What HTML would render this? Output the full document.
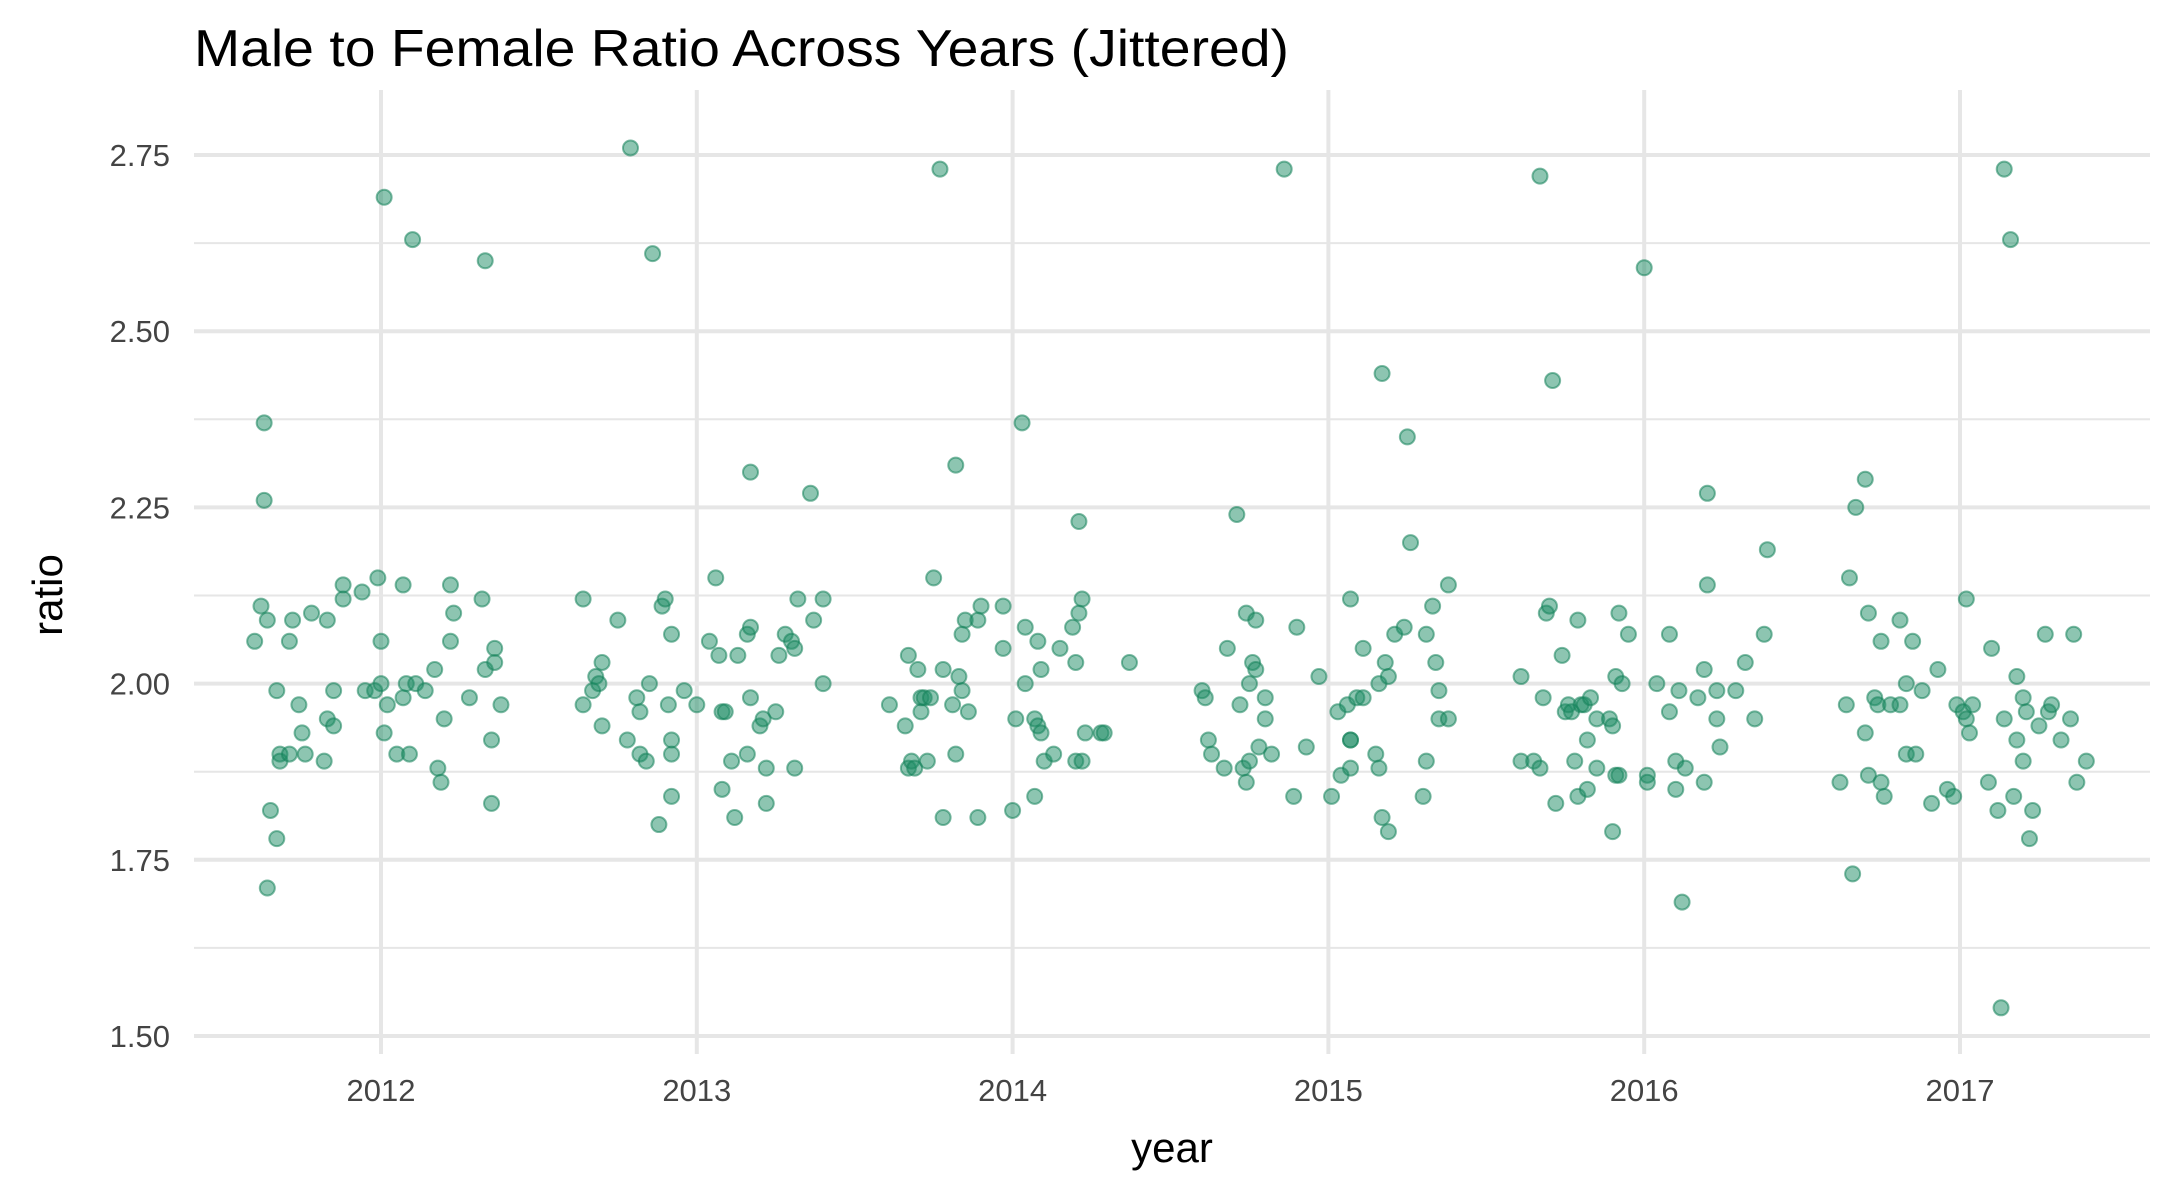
<!DOCTYPE html>
<html><head><meta charset="utf-8"><style>
html,body{margin:0;padding:0;background:#fff;}
svg{display:block;font-family:"Liberation Sans",sans-serif;}
</style></head><body>
<svg id="chart" width="2175" height="1200" viewBox="0 0 2175 1200" xmlns="http://www.w3.org/2000/svg">
<rect width="2175" height="1200" fill="#fff"/>
<g id="grid"></g>
<g id="points"></g>
<g id="axes"></g>
<text x="194" y="66" font-size="52" fill="#000" textLength="1095" lengthAdjust="spacingAndGlyphs">Male to Female Ratio Across Years (Jittered)</text>
<text x="1172" y="1162" font-size="42" text-anchor="middle" fill="#000">year</text>
<text transform="translate(62,595) rotate(-90)" font-size="42" text-anchor="middle" fill="#000">ratio</text>
</svg>
<script>
const yTicks=[1.50,1.75,2.00,2.25,2.50,2.75];
const yTickLabels=["1.50","1.75","2.00","2.25","2.50","2.75"];
const xTicks=[2012,2013,2014,2015,2016,2017];
const xTickLabels=["2012","2013","2014","2015","2016","2017"];
const years=[
2011.60,2011.62,2011.63,2011.63,2011.64,2011.64,2011.65,2011.67,2011.67,2011.68,2011.68,2011.71,2011.71,2011.72,2011.74,2011.75,2011.76,2011.78,2011.82,2011.83,2011.83,2011.85,2011.85,2011.88,2011.88,2011.94,2011.95,2011.98,2011.99,2012.00,2012.00,2012.01,2012.01,2012.02,2012.05,2012.07,2012.07,2012.08,2012.09,2012.10,2012.11,2012.14,2012.17,2012.18,2012.19,2012.20,2012.22,2012.22,2012.23,2012.28,2012.32,2012.33,2012.33,2012.35,2012.35,2012.36,2012.36,2012.38,
2012.64,2012.64,2012.67,2012.68,2012.69,2012.70,2012.70,2012.75,2012.78,2012.79,2012.81,2012.82,2012.82,2012.84,2012.85,2012.86,2012.88,2012.89,2012.90,2012.91,2012.92,2012.92,2012.92,2012.92,2012.96,2013.00,2013.04,2013.06,2013.07,2013.08,2013.08,2013.09,2013.11,2013.12,2013.13,2013.16,2013.16,2013.17,2013.17,2013.17,2013.20,2013.21,2013.22,2013.22,2013.25,2013.26,2013.28,2013.30,2013.31,2013.31,2013.32,2013.36,2013.37,2013.40,2013.40,
2013.61,2013.66,2013.67,2013.67,2013.68,2013.69,2013.70,2013.71,2013.71,2013.72,2013.73,2013.74,2013.75,2013.77,2013.78,2013.78,2013.81,2013.82,2013.82,2013.83,2013.84,2013.84,2013.85,2013.86,2013.89,2013.89,2013.90,2013.97,2013.97,2014.00,2014.01,2014.03,2014.04,2014.04,2014.07,2014.07,2014.08,2014.08,2014.09,2014.09,2014.10,2014.13,2014.15,2014.19,2014.20,2014.20,2014.21,2014.21,2014.22,2014.22,2014.23,2014.28,2014.29,2014.37,
2014.60,2014.61,2014.62,2014.63,2014.67,2014.68,2014.71,2014.72,2014.73,2014.74,2014.74,2014.75,2014.75,2014.76,2014.77,2014.77,2014.78,2014.80,2014.80,2014.82,2014.86,2014.89,2014.90,2014.93,2014.97,2015.01,2015.03,2015.04,2015.06,2015.07,2015.07,2015.07,2015.07,2015.09,2015.11,2015.11,2015.15,2015.16,2015.16,2015.17,2015.17,2015.18,2015.19,2015.19,2015.21,2015.24,2015.25,2015.26,2015.30,2015.31,2015.31,2015.33,2015.34,2015.35,2015.35,2015.38,2015.38,
2015.61,2015.61,2015.65,2015.67,2015.67,2015.68,2015.69,2015.70,2015.71,2015.72,2015.74,2015.75,2015.76,2015.77,2015.78,2015.79,2015.79,2015.80,2015.81,2015.82,2015.82,2015.83,2015.85,2015.85,2015.89,2015.90,2015.90,2015.91,2015.91,2015.92,2015.92,2015.93,2015.95,2016.00,2016.01,2016.01,2016.04,2016.08,2016.08,2016.10,2016.10,2016.11,2016.12,2016.13,2016.17,2016.19,2016.19,2016.20,2016.20,2016.23,2016.23,2016.24,2016.29,2016.32,2016.35,2016.38,2016.39,
2016.62,2016.64,2016.65,2016.66,2016.67,2016.70,2016.70,2016.71,2016.71,2016.73,2016.74,2016.75,2016.75,2016.76,2016.78,2016.81,2016.81,2016.83,2016.83,2016.85,2016.86,2016.88,2016.91,2016.93,2016.96,2016.98,2016.99,2017.01,2017.02,2017.02,2017.03,2017.04,2017.09,2017.10,2017.12,2017.13,2017.14,2017.14,2017.16,2017.17,2017.18,2017.18,2017.20,2017.20,2017.21,2017.22,2017.23,2017.25,2017.27,2017.28,2017.29,2017.32,2017.35,2017.36,2017.37,2017.40];
const ratios=[
2.06,2.11,2.37,2.26,2.09,1.71,1.82,1.99,1.78,1.90,1.89,2.06,1.90,2.09,1.97,1.93,1.90,2.10,1.89,2.09,1.95,1.94,1.99,2.12,2.14,2.13,1.99,1.99,2.15,2.00,2.06,2.69,1.93,1.97,1.90,2.14,1.98,2.00,1.90,2.63,2.00,1.99,2.02,1.88,1.86,1.95,2.06,2.14,2.10,1.98,2.12,2.02,2.60,1.92,1.83,2.05,2.03,1.97,
2.12,1.97,1.99,2.01,2.00,1.94,2.03,2.09,1.92,2.76,1.98,1.90,1.96,1.89,2.00,2.61,1.80,2.11,2.12,1.97,1.90,2.07,1.92,1.84,1.99,1.97,2.06,2.15,2.04,1.96,1.85,1.96,1.89,1.81,2.04,2.07,1.90,2.30,2.08,1.98,1.94,1.95,1.83,1.88,1.96,2.04,2.07,2.06,1.88,2.05,2.12,2.27,2.09,2.00,2.12,
1.97,1.94,1.88,2.04,1.89,1.88,2.02,1.96,1.98,1.98,1.89,1.98,2.15,2.73,1.81,2.02,1.97,1.90,2.31,2.01,2.07,1.99,2.09,1.96,2.09,1.81,2.11,2.05,2.11,1.82,1.95,2.37,2.00,2.08,1.95,1.84,2.06,1.94,1.93,2.02,1.89,1.90,2.05,2.08,1.89,2.03,2.10,2.23,2.12,1.89,1.93,1.93,1.93,2.03,
1.99,1.98,1.92,1.90,1.88,2.05,2.24,1.97,1.88,1.86,2.10,1.89,2.00,2.03,2.02,2.09,1.91,1.98,1.95,1.90,2.73,1.84,2.08,1.91,2.01,1.84,1.96,1.87,1.97,2.12,1.92,1.92,1.88,1.98,1.98,2.05,1.90,1.88,2.00,1.81,2.44,2.03,1.79,2.01,2.07,2.08,2.35,2.20,1.84,1.89,2.07,2.11,2.03,1.99,1.95,1.95,2.14,
2.01,1.89,1.89,2.72,1.88,1.98,2.10,2.11,2.43,1.83,2.04,1.96,1.97,1.96,1.89,2.09,1.84,1.97,1.97,1.92,1.85,1.98,1.88,1.95,1.95,1.79,1.94,1.87,2.01,2.10,1.87,2.00,2.07,2.59,1.87,1.86,2.00,1.96,2.07,1.85,1.89,1.99,1.69,1.88,1.98,1.86,2.02,2.27,2.14,1.99,1.95,1.91,1.99,2.03,1.95,2.07,2.19,
1.86,1.97,2.15,1.73,2.25,2.29,1.93,1.87,2.10,1.98,1.97,2.06,1.86,1.84,1.97,2.09,1.97,2.00,1.90,2.06,1.90,1.99,1.83,2.02,1.85,1.84,1.97,1.96,2.12,1.95,1.93,1.97,1.86,2.05,1.82,1.54,1.95,2.73,2.63,1.84,1.92,2.01,1.98,1.89,1.96,1.78,1.82,1.94,2.07,1.96,1.97,1.92,1.95,2.07,1.86,1.89];

const NS="http://www.w3.org/2000/svg";
const X0=194,X1=2150,Y0=90,Y1=1054;
function xs(v){return 381+(v-2012)*315.8;}
function ys(v){return 155+(2.75-v)*704.8;}
const grid=document.getElementById('grid'),pts=document.getElementById('points'),axes=document.getElementById('axes');
function line(g,x1,y1,x2,y2,w,name){const l=document.createElementNS(NS,'line');
l.setAttribute('x1',x1);l.setAttribute('y1',y1);l.setAttribute('x2',x2);l.setAttribute('y2',y2);
l.setAttribute('stroke','#e6e6e6');l.setAttribute('stroke-width',w);


g.appendChild(l);}
for(let i=0;i<yTicks.length-1;i++){const m=(yTicks[i]+yTicks[i+1])/2;line(grid,X0,ys(m),X1,ys(m),2,'y-minor-gridline');}
yTicks.forEach((v,i)=>{line(grid,X0,ys(v),X1,ys(v),4,'y-major-gridline');
const t=document.createElementNS(NS,'text');t.setAttribute('x',170);t.setAttribute('y',ys(v)+11);
t.setAttribute('text-anchor','end');t.setAttribute('font-size','31');t.setAttribute('fill','#444');t.textContent=yTickLabels[i];


axes.appendChild(t);});
xTicks.forEach((v,i)=>{line(grid,xs(v),Y0,xs(v),Y1,4,'x-major-gridline');
const t=document.createElementNS(NS,'text');t.setAttribute('x',xs(v));t.setAttribute('y',1101);
t.setAttribute('text-anchor','middle');t.setAttribute('font-size','31');t.setAttribute('fill','#444');t.textContent=xTickLabels[i];


axes.appendChild(t);});
years.forEach((yr,i)=>{const c=document.createElementNS(NS,'circle');
c.setAttribute('cx',xs(yr));c.setAttribute('cy',ys(ratios[i]));c.setAttribute('r',7.5);
c.setAttribute('fill','rgba(27,140,100,0.5)');c.setAttribute('stroke','rgba(20,130,90,0.55)');c.setAttribute('stroke-width','2');


pts.appendChild(c);});
</script>
</body></html>
